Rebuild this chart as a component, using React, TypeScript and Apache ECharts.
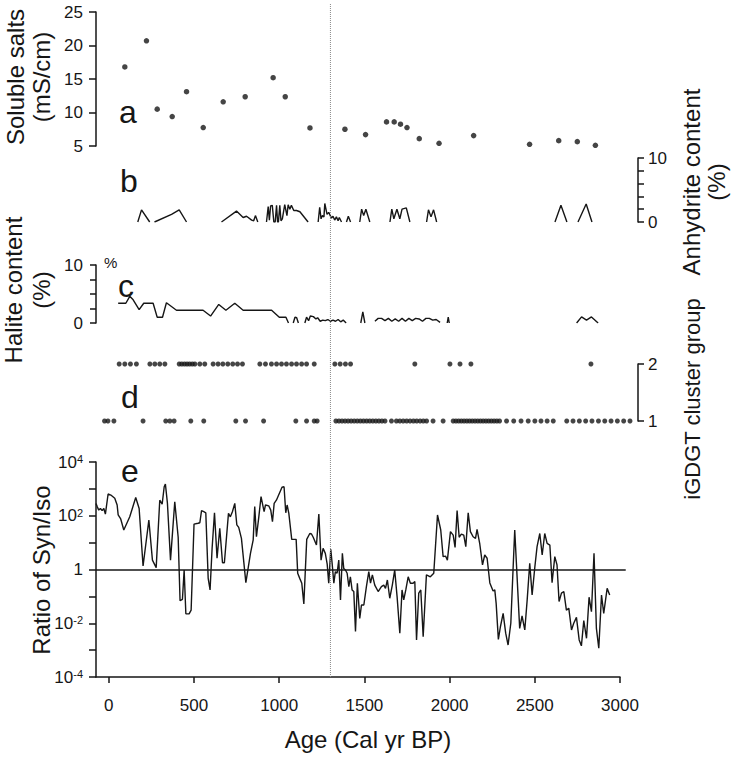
import React, { useEffect, useRef } from "react";
import * as echarts from "echarts";

// ---------- data ----------
const xTickValues = [0, 500, 1000, 1500, 2000, 2500, 3000];
const boundaryAge = 1300;

// a: soluble salts (mS/cm)
const saltAges = [94, 221, 284, 372, 456, 554, 671, 800, 964, 1035, 1180, 1385, 1506, 1629, 1674, 1711, 1749, 1821, 1937, 2140, 2236, 2468, 2639, 2748, 2854];
const saltValues = [16.8, 20.7, 10.5, 9.4, 13.1, 7.75, 11.6, 12.35, 15.2, 12.35, 7.7, 7.5, 6.7, 8.6, 8.6, 8.25, 7.75, 6.1, 5.4, 6.55, 4.55, 5.25, 5.8, 5.65, 5.1];

// b: anhydrite content (%) -- null marks a break in the line
const anhydriteAges = [
  170, 192, 240, null,
  268, 368, 413, 456, null,
  661, 749, 788, 808, 838, 850, 860, 874, null,
  925, 935, 942, 949, 959, 968, 976, 984, 990, 995, 1003, 1010, 1018, 1032, 1045, 1052, 1062, 1071, 1085, 1101, 1121, 1169, null,
  1228, 1237, 1245, 1253, 1262, 1267, 1280, 1290, 1306, 1315, 1325, 1335, 1345, 1352, 1365, null,
  1394, 1405, 1418, null,
  1472, 1483, 1495, 1508, 1531, null,
  1649, 1660, 1672, 1690, 1707, 1720, 1745, 1766, null,
  1864, 1875, 1890, 1905, 1923, null,
  2617, 2652, 2687, null,
  2752, 2800, 2834,
];
const anhydriteValues = [
  0, 1.9, 0, null,
  0, 1.2, 1.9, 0, null,
  0, 1.7, 0.7, 0.9, 0.3, 0.2, 1.0, 0, null,
  0, 2.4, 0.3, 2.5, 2.6, 0, 0, 2.6, 0, 0, 2.6, 0.2, 0.5, 2.7, 1.0, 2.7, 2.0, 2.6, 1.8, 1.8, 1.6, 0, null,
  0, 2.3, 0.5, 1.0, 0.8, 2.9, 1.2, 1.5, 0.6, 0.9, 0.3, 0.8, 0.2, 0.7, 0, null,
  0, 0.9, 0, null,
  0, 2.0, 1.0, 2.0, 0, null,
  0, 2.0, 0.5, 2.0, 0.5, 2.0, 2.2, 0, null,
  0, 1.9, 0.8, 1.9, 0, null,
  0, 2.6, 0, null,
  0, 2.8, 0,
];

// c: halite content (%) -- null marks a break
const haliteAges = [
  55, 100, 123, 143, 178, 205, 260, 284, 315, 338, 397, 553, 597, 645, 687, 739, 788, 955, 1000, 1039, 1054, null,
  1082, 1092, 1102, 1112, null,
  1150, 1160, 1172, 1182, 1200, 1215, 1225, 1240, 1255, 1270, 1285, 1300, 1315, 1330, 1345, 1360, 1375, 1392, null,
  1478, 1490, 1502, null,
  1561, 1580, 1600, 1620, 1640, 1660, 1680, 1700, 1720, 1740, 1760, 1780, 1800, 1820, 1840, 1860, 1880, 1900, 1920, 1943, null,
  1985, 1991, 1997, null,
  2744, 2773, 2802, 2831, 2870,
];
const haliteValues = [
  3.4, 3.4, 4.6, 4.0, 2.3, 3.4, 3.4, 1.0, 1.0, 3.5, 2.2, 2.2, 1.2, 3.2, 2.2, 3.4, 2.2, 2.2, 1.0, 1.0, 0, null,
  0, 1.0, 0.9, 0, null,
  0, 1.0, 0.4, 1.2, 1.1, 0.7, 0.9, 0.3, 0.5, 0.4, 0.6, 0.3, 0.5, 0.3, 0.6, 0.2, 0.5, 0, null,
  0, 1.9, 0, null,
  0.3, 0.8, 0.8, 0.4, 0.8, 0.3, 0.7, 0.3, 0.8, 0.3, 0.8, 0.4, 0.8, 0.7, 0.3, 0.8, 0.8, 0.5, 0.6, 0.1, null,
  0, 1.0, 0, null,
  0, 1.05, 0.5, 1.05, 0,
];

// d: iGDGT cluster group membership (ages of samples)
const clusterGroup1Ages = [
  -25, -5, 30, 201, 334, 358, 383, 481, 557, 745, 802, 908, 1097, 1160, 1205, 1222,
  1332, 1350, 1368, 1386, 1404, 1422, 1440, 1458, 1476, 1494, 1512, 1530, 1548, 1566, 1584, 1602, 1620,
  1658, 1687, 1707, 1727, 1747, 1767, 1787, 1806, 1826, 1845, 1864, 1902, 1961,
  2020, 2036, 2052, 2068, 2084, 2100, 2116, 2132, 2148, 2164, 2180, 2196, 2212, 2228, 2244, 2260, 2276, 2292,
  2333, 2375, 2418, 2460, 2499, 2535, 2571, 2607,
  2686, 2723, 2760, 2797, 2834, 2872, 2909, 2946, 2983, 3020, 3057,
];
const clusterGroup2Ages = [
  61, 94, 127, 162, 241, 270, 299, 329, 413, 428, 444, 459, 474, 490, 505, 534, 563,
  612, 641, 669, 698, 727, 755, 784, 886, 919, 954, 984, 1013, 1042, 1072, 1101, 1131, 1160, 1205,
  1326, 1357, 1388, 1418, 1795, 2001, 2060, 2124, 2828,
];

// e: ratio of Syn/Iso, read as log10 of the ratio
const ratioAges = [
  -75, -68, -59, -49, -39, -29, -20, -4, 12, 35, 49, 55, 70, 88, 123, 158, 178, 201, 235, 256, 278, 299, 313, 325, 332, 344,
  362, 387, 407, 418, 432, 442, 452, 471, 483, 500, 524, 534, 544, 557, 569, 583, 594, 606, 620, 635, 651, 667, 678,
  702, 713, 725, 739, 751, 762, 778, 804, 831, 847, 856, 866, 880, 893, 911, 919, 938, 950, 960, 970, 983,
  1016, 1028, 1038, 1046, 1056, 1073, 1099, 1108, 1120, 1132, 1144, 1161, 1179, 1189, 1199, 1218, 1232, 1245, 1257, 1270,
  1281, 1290, 1302, 1310, 1320, 1329, 1339, 1349, 1359, 1370, 1378, 1388, 1398, 1408, 1417, 1427, 1437, 1447, 1458,
  1472, 1482, 1496, 1511, 1525, 1535, 1546, 1560, 1580, 1599, 1613, 1623, 1634, 1648, 1663, 1677, 1691, 1707, 1720,
  1730, 1742, 1756, 1769, 1785, 1795, 1805, 1818, 1830, 1844, 1863, 1886, 1906, 1928, 1947, 1961, 1975, 1986, 2004,
  2020, 2031, 2043, 2055, 2068, 2082, 2094, 2108, 2121, 2137, 2151, 2160, 2176, 2192, 2205, 2219, 2235, 2254, 2264,
  2272, 2285, 2297, 2313, 2328, 2342, 2358, 2371, 2381, 2410, 2424, 2440, 2454, 2469, 2483, 2499, 2512, 2528, 2542,
  2557, 2571, 2587, 2600, 2616, 2629, 2641, 2655, 2669, 2684, 2698, 2714, 2727, 2743, 2759, 2772, 2786, 2802, 2817,
  2831, 2846, 2860, 2874, 2890, 2903, 2923, 2938,
];
const ratioLog10 = [
  2.46, 2.34, 2.21, 2.27, 2.19, 2.27, 2.06, 2.81, 2.77, 2.65, 2.40, 2.03, 1.88, 1.47, 1.96, 2.68, 2.27, 0.13, 1.84, 0.35, 0.07, 2.58, 2.43, 3.08, 3.18, 2.46,
  0.35, 2.52, 1.20, -1.16, -1.11, -0.02, -1.65, -1.65, -1.51, 1.69, 1.72, 1.74, 2.19, 2.15, 2.11, -0.33, -0.76, 0.79, 2.11, 0.42, 1.53, 0.25, 0.25,
  2.09, 1.96, 2.15, 2.46, 1.66, 1.57, 1.16, -0.49, 0.60, 1.10, 2.34, 1.22, 1.96, 2.71, 2.15, 2.40, 2.37, 2.21, 1.78, 2.46, 2.58,
  3.06, 3.08, 2.11, 2.40, 2.09, 1.12, 1.12, -0.14, -0.33, -0.51, -1.28, 1.12, 1.34, 1.32, 1.20, 0.91, 2.06, 0.35, 0.79, 0.60,
  0.20, -0.51, 0.75, 0.23, -0.51, -0.08, -0.14, 0.35, -1.13, 0.60, 0.04, -0.02, -0.14, -0.64, -0.27, -0.76, -0.82, -2.31, -0.51,
  -1.82, -1.32, -1.32, -0.64, -0.08, -0.51, -0.20, -0.58, -0.82, -0.64, -0.58, -0.70, -0.39, -1.07, -0.58, -0.02, -1.01, -2.37, -0.76,
  -1.13, -0.76, -0.27, -0.51, -0.51, -0.45, -2.62, -0.88, -0.76, -2.50, -0.20, -0.27, -0.14, 2.03, 1.47, 0.48, 0.50, 0.35, 1.41,
  1.28, 0.82, 2.19, 1.20, 1.32, 1.28, 0.85, 2.11, 1.41, 1.22, 1.16, 1.49, 0.95, 0.17, 0.54, 0.42, -0.50, -0.80, -0.76,
  -1.26, -2.60, -2.13, -1.63, -2.37, -2.81, -2.00, -0.02, 1.47, -2.19, -1.73, -2.25, -1.13, 0.23, -0.95, 0.10, 0.85, 1.34, 0.54,
  1.34, 0.97, 0.91, -0.49, 0.48, 0.17, -1.19, -0.88, -0.82, -1.51, -1.44, -2.25, -2.00, -1.78, -2.62, -2.84, -1.90, -2.56, -1.03,
  -1.57, 0.60, -2.19, -2.93, -0.95, -1.63, -0.70, -0.95,
];
const ratioReferenceLevel = 0; // log10(1)
const ratioReferenceEndAge = 3032;

// ---------- helpers ----------
const FONT = '"Liberation Sans", Arial, Helvetica, sans-serif';
const INK = "#161616";
const XMIN = -75;
const XMAX = 3104;
const L = 96;
const W = 542;

function pairs(xs: (number | null)[], ys: (number | null)[]) {
  return xs.map((x, i) => (x == null || ys[i] == null ? ["-", "-"] : [x, ys[i]]));
}

function hiddenX(gridIndex: number, max = XMAX) {
  return { type: "value", gridIndex, min: XMIN, max, show: false };
}

function yAxisBase(extra: any) {
  return {
    type: "value",
    axisLine: { show: true, onZero: false, lineStyle: { color: INK, width: 1.5 } },
    axisTick: { show: true, inside: false, length: 6, lineStyle: { color: INK, width: 1.5 } },
    axisLabel: { color: INK, fontSize: 17, fontFamily: FONT },
    splitLine: { show: false },
    ...extra,
  };
}

function rotatedText(x: number, y: number, text: string, fontSize: number, lineHeight: number) {
  return {
    type: "text",
    x,
    y,
    rotation: Math.PI / 2,
    silent: true,
    style: {
      text,
      fontSize,
      lineHeight,
      fontFamily: FONT,
      fill: INK,
      align: "center",
      verticalAlign: "middle",
    },
  };
}

function plainText(x: number, y: number, text: string, fontSize: number, align = "left") {
  return {
    type: "text",
    x,
    y,
    silent: true,
    style: { text, fontSize, fontFamily: FONT, fill: INK, align, verticalAlign: "middle" },
  };
}

export default function App() {
  const ref = useRef<HTMLDivElement>(null);

  useEffect(() => {
    if (!ref.current) return;
    const chart = echarts.init(ref.current, undefined, { renderer: "svg" });

    const option: any = {
      animation: false,
      backgroundColor: "#ffffff",
      textStyle: { fontFamily: FONT },
      grid: [
        { left: L, top: 12, width: W, height: 134 },
        { left: L, top: 158, width: W, height: 64 },
        { left: L, top: 265, width: W, height: 58 },
        { left: L, top: 364, width: W, height: 57 },
        { left: L, top: 462, width: W, height: 215 },
        { left: L, top: 462, width: 524, height: 215 },
        { left: L, top: 4, width: W, height: 673 },
      ],
      xAxis: [
        hiddenX(0),
        hiddenX(1),
        hiddenX(2),
        hiddenX(3),
        hiddenX(4),
        {
          type: "value",
          gridIndex: 5,
          min: XMIN,
          max: 3000,
          position: "bottom",
          axisLine: { show: true, onZero: false, lineStyle: { color: INK, width: 1.5 } },
          axisTick: { show: true, customValues: xTickValues, length: 6, lineStyle: { color: INK, width: 1.5 } },
          axisLabel: {
            show: true, customValues: xTickValues, fontSize: 17, color: INK, fontFamily: FONT, margin: 20,
            formatter: (v: number) => String(Math.round(v)),
          },
          splitLine: { show: false },
        },
        hiddenX(6),
      ],
      yAxis: [
        yAxisBase({ gridIndex: 0, min: 5, max: 25, interval: 5, position: "left", axisTick: { show: true, length: 7, lineStyle: { color: INK, width: 1.5 } }, axisLabel: { color: INK, fontSize: 17, fontFamily: FONT, margin: 13 } }),
        yAxisBase({
          gridIndex: 1, min: 0, max: 10, interval: 2, position: "right",
          axisLabel: { color: INK, fontSize: 17, fontFamily: FONT, margin: 10, formatter: (v: number) => (v === 0 || v === 10 ? String(v) : "") },
        }),
        yAxisBase({
          gridIndex: 2, min: 0, max: 10, interval: 2.5, position: "left",
          axisLabel: { color: INK, fontSize: 17, fontFamily: FONT, margin: 13, formatter: (v: number) => (v === 0 || v === 10 ? String(v) : "") },
        }),
        yAxisBase({
          gridIndex: 3, min: 1, max: 2, interval: 1, position: "right",
          axisLabel: { color: INK, fontSize: 17, fontFamily: FONT, margin: 10 },
        }),
        yAxisBase({
          gridIndex: 4, min: -4, max: 4, interval: 1, position: "left",
          axisTick: { show: true, length: 7, lineStyle: { color: INK, width: 1.5 } },
          axisLabel: {
            color: INK, fontSize: 17, fontFamily: FONT, margin: 13,
            formatter: (v: number) => {
              if (Math.round(v) % 2 !== 0) return "";
              if (v === 0) return "{b|1}";
              return `{b|10}{s|${v}}`;
            },
            rich: {
              b: { fontSize: 17, fontFamily: FONT, color: INK },
              s: { fontSize: 11, fontFamily: FONT, color: INK, verticalAlign: "top" },
            },
          },
        }),
        { type: "value", gridIndex: 5, min: 0, max: 1, show: false },
        { type: "value", gridIndex: 6, min: 0, max: 1, show: false },
      ],
      series: [
        {
          type: "scatter", xAxisIndex: 0, yAxisIndex: 0, symbolSize: 5.5, silent: true,
          itemStyle: { color: INK },
          data: pairs(saltAges, saltValues),
        },
        {
          type: "line", xAxisIndex: 1, yAxisIndex: 1, showSymbol: false, connectNulls: false, silent: true,
          lineStyle: { color: INK, width: 1.4 },
          data: pairs(anhydriteAges, anhydriteValues),
        },
        {
          type: "line", xAxisIndex: 2, yAxisIndex: 2, showSymbol: false, connectNulls: false, silent: true,
          lineStyle: { color: INK, width: 1.4 },
          data: pairs(haliteAges, haliteValues),
        },
        {
          type: "scatter", xAxisIndex: 3, yAxisIndex: 3, symbolSize: 5, silent: true,
          itemStyle: { color: INK },
          data: clusterGroup1Ages.map((a) => [a, 1]),
        },
        {
          type: "scatter", xAxisIndex: 3, yAxisIndex: 3, symbolSize: 5, silent: true,
          itemStyle: { color: INK },
          data: clusterGroup2Ages.map((a) => [a, 2]),
        },
        {
          type: "line", xAxisIndex: 4, yAxisIndex: 4, showSymbol: false, silent: true,
          lineStyle: { color: INK, width: 1.4 },
          data: pairs(ratioAges, ratioLog10),
          markLine: {
            silent: true, symbol: "none", label: { show: false },
            lineStyle: { color: INK, width: 1.5, type: "solid" },
            data: [[{ coord: [XMIN, ratioReferenceLevel] }, { coord: [ratioReferenceEndAge, ratioReferenceLevel] }]],
          },
        },
        {
          type: "line", xAxisIndex: 6, yAxisIndex: 6, showSymbol: false, silent: true,
          lineStyle: { color: "#8a8a8a", width: 1, type: "dotted" },
          data: [[boundaryAge, 0], [boundaryAge, 1]],
        },
      ],
      graphic: [
        rotatedText(28, 77, "Soluble salts\n(mS/cm)", 24, 26),
        rotatedText(27, 290, "Halite content\n(%)", 24, 28),
        rotatedText(41, 570, "Ratio of Syn/Iso", 24, 26),
        rotatedText(704, 182, "Anhydrite content\n(%)", 24, 25),
        rotatedText(692, 399, "iGDGT cluster group", 22, 24),
        plainText(368, 739, "Age (Cal yr BP)", 24, "center"),
        plainText(104, 262, "%", 15),
        plainText(119, 112, "a", 32),
        plainText(120, 181, "b", 32),
        plainText(118, 286, "c", 32),
        plainText(121, 397, "d", 32),
        plainText(121, 471, "e", 32),
      ],
    };

    chart.setOption(option);
    return () => chart.dispose();
  }, []);

  return (
    <div
      ref={ref}
      style={{ position: "fixed", left: 0, top: 0, width: 734, height: 760, background: "#fff" }}
    />
  );
}
